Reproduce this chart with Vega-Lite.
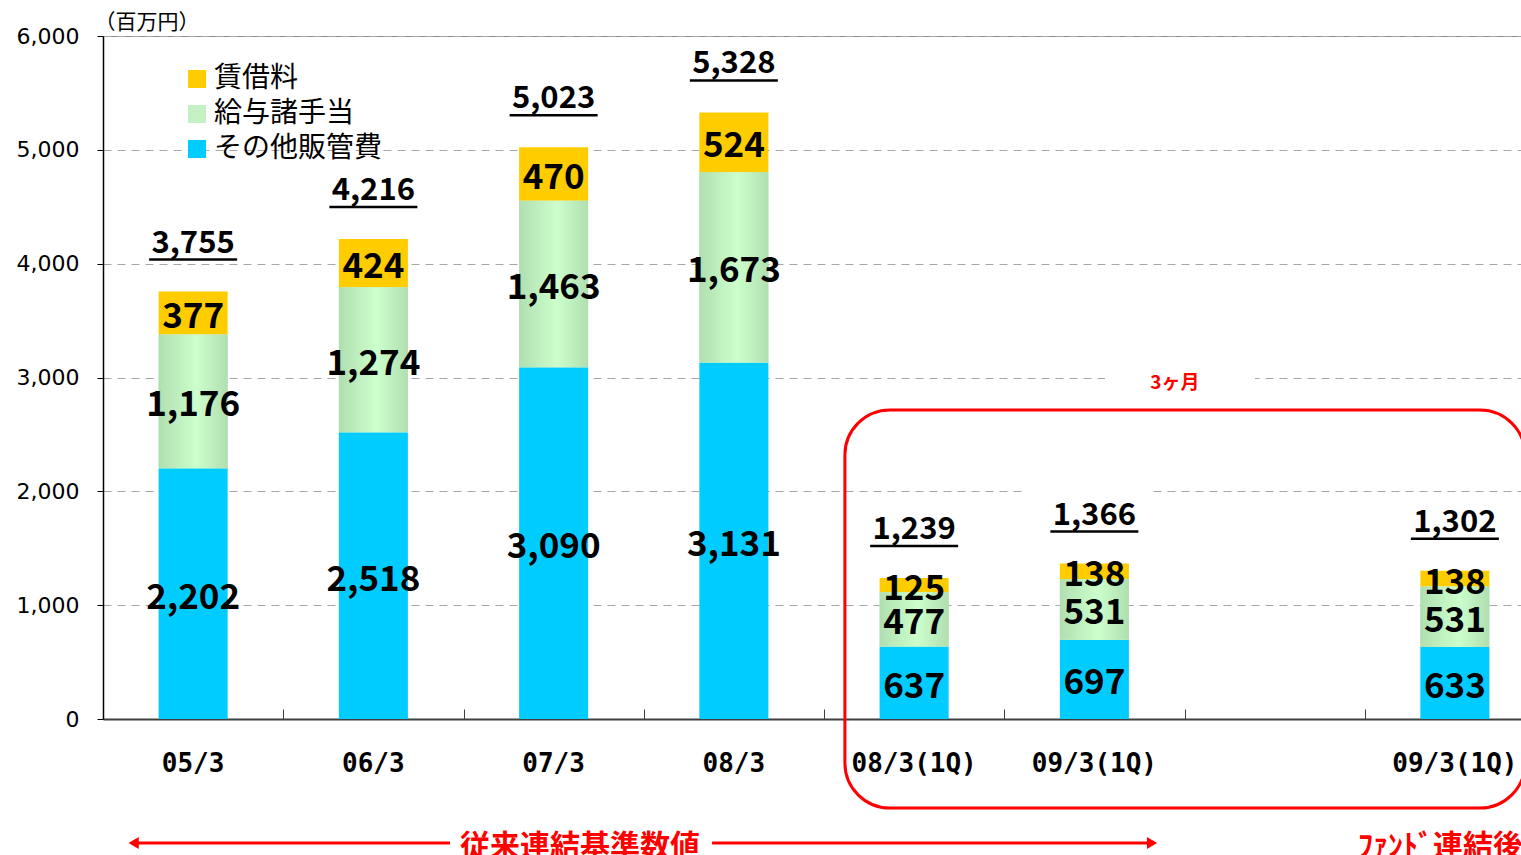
{
  "$schema": "https://vega.github.io/schema/vega-lite/v6.json",
  "width": 1418,
  "height": 683,
  "autosize": {"type": "none"},
  "padding": {"left": 103, "top": 36, "right": 0, "bottom": 136},
  "background": "white",
  "config": {"view": {"stroke": "#8c8c8c", "strokeWidth": 1}, "font": "Noto Sans CJK JP"},
  "datasets": {
    "costs": [
      {"cat": "05/3", "series": "その他販管費", "order": 1, "value": 2202},
      {"cat": "05/3", "series": "給与諸手当", "order": 2, "value": 1176},
      {"cat": "05/3", "series": "賃借料", "order": 3, "value": 377},
      {"cat": "06/3", "series": "その他販管費", "order": 1, "value": 2518},
      {"cat": "06/3", "series": "給与諸手当", "order": 2, "value": 1274},
      {"cat": "06/3", "series": "賃借料", "order": 3, "value": 424},
      {"cat": "07/3", "series": "その他販管費", "order": 1, "value": 3090},
      {"cat": "07/3", "series": "給与諸手当", "order": 2, "value": 1463},
      {"cat": "07/3", "series": "賃借料", "order": 3, "value": 470},
      {"cat": "08/3", "series": "その他販管費", "order": 1, "value": 3131},
      {"cat": "08/3", "series": "給与諸手当", "order": 2, "value": 1673},
      {"cat": "08/3", "series": "賃借料", "order": 3, "value": 524},
      {"cat": "08/3(1Q)", "series": "その他販管費", "order": 1, "value": 637},
      {"cat": "08/3(1Q)", "series": "給与諸手当", "order": 2, "value": 477},
      {"cat": "08/3(1Q)", "series": "賃借料", "order": 3, "value": 125},
      {"cat": "09/3(1Q)", "series": "その他販管費", "order": 1, "value": 697},
      {"cat": "09/3(1Q)", "series": "給与諸手当", "order": 2, "value": 531},
      {"cat": "09/3(1Q)", "series": "賃借料", "order": 3, "value": 138},
      {"cat": "09/3(1Q)*", "series": "その他販管費", "order": 1, "value": 633},
      {"cat": "09/3(1Q)*", "series": "給与諸手当", "order": 2, "value": 531},
      {"cat": "09/3(1Q)*", "series": "賃借料", "order": 3, "value": 138}
    ],
    "gaps": [
      {"x": 5.559, "x2": 6.391, "y": 2930, "y2": 3070},
      {"x": 5.115, "x2": 5.809, "y": 1950, "y2": 2050}
    ],
    "box": [{"x": 4.116, "x2": 7.889, "y": -782, "y2": 2715}],
    "arrows": [
      {"x": 0.17, "x2": 1.925, "y": -1089},
      {"x": 3.379, "x2": 5.82, "y": -1089}
    ],
    "heads": [
      {"x": 0.17, "y": -1089, "shape": "triangle-left"},
      {"x": 5.82, "y": -1089, "shape": "triangle-right"}
    ],
    "bigNotes": [
      {"x": 2.646, "y": -1124, "text": "従来連結基準数値"},
      {"x": 7.42, "y": -1124, "text": "ﾌｧﾝﾄﾞ連結後"}
    ],
    "smallNotes": [{"x": 5.947, "y": 2952, "text": "3ヶ月"}]
  },
  "resolve": {"scale": {"x": "independent"}, "axis": {"x": "independent"}},
  "layer": [
    {
      "layer": [
        {
          "data": {"name": "gaps"},
          "mark": {"type": "rect", "color": "white"},
          "encoding": {
            "x": {
              "field": "x", "type": "quantitative",
              "scale": {"domain": [0, 8], "range": [0, 1442], "nice": false, "zero": false},
              "axis": {"orient": "bottom", "values": [1, 2, 3, 4, 5, 6, 7], "labels": false, "domain": false, "grid": false, "ticks": true, "tickSize": -10, "tickColor": "#404040", "tickWidth": 1, "title": null}
            },
            "x2": {"field": "x2"},
            "y": {
              "field": "y", "type": "quantitative",
              "scale": {"domain": [0, 6000], "nice": false},
              "axis": {
                "values": [0, 1000, 2000, 3000, 4000, 5000, 6000],
                "labelExpr": "format(datum.value, ',')",
                "title": "（百万円）",
                "titleAngle": 0,
                "titleX": -9,
                "titleY": -14,
                "titleAlign": "left",
                "titleBaseline": "middle",
                "titleFont": "Noto Sans CJK JP",
                "titleFontWeight": "normal",
                "titleFontSize": 21,
                "titleColor": "black",
                "labelFont": "DejaVu Sans",
                "labelFontSize": 22,
                "labelColor": "black",
                "labelPadding": 18,
                "tickSize": 6,
                "tickColor": "black",
                "domainColor": "black",
                "domainWidth": 1.5,
                "grid": true,
                "gridColor": "#a6a6a6",
                "gridDash": [8, 6],
                "gridWidth": 1
              }
            },
            "y2": {"field": "y2"}
          }
        },
        {
          "data": {"name": "box"},
          "mark": {"type": "rect", "fillOpacity": 0, "stroke": "#FF0000", "strokeWidth": 3, "cornerRadius": 45},
          "encoding": {
            "x": {"field": "x", "type": "quantitative"},
            "x2": {"field": "x2"},
            "y": {"field": "y", "type": "quantitative"},
            "y2": {"field": "y2"}
          }
        },
        {
          "data": {"name": "arrows"},
          "mark": {"type": "rule", "color": "#FF0000", "strokeWidth": 3},
          "encoding": {
            "x": {"field": "x", "type": "quantitative"},
            "x2": {"field": "x2"},
            "y": {"field": "y", "type": "quantitative"}
          }
        },
        {
          "data": {"name": "heads"},
          "mark": {"type": "point", "filled": true, "color": "#FF0000", "opacity": 1, "size": 140},
          "encoding": {
            "x": {"field": "x", "type": "quantitative"},
            "y": {"field": "y", "type": "quantitative"},
            "shape": {"field": "shape", "type": "nominal", "scale": null}
          }
        },
        {
          "data": {"name": "bigNotes"},
          "mark": {"type": "text", "color": "#FF0000", "font": "Noto Sans CJK JP", "fontWeight": "bold", "fontSize": 30, "baseline": "middle", "align": "center"},
          "encoding": {
            "x": {"field": "x", "type": "quantitative"},
            "y": {"field": "y", "type": "quantitative"},
            "text": {"field": "text"}
          }
        },
        {
          "data": {"name": "smallNotes"},
          "mark": {"type": "text", "color": "#FF0000", "font": "Noto Sans CJK JP", "fontWeight": "bold", "fontSize": 19, "baseline": "middle", "align": "center"},
          "encoding": {
            "x": {"field": "x", "type": "quantitative"},
            "y": {"field": "y", "type": "quantitative"},
            "text": {"field": "text"}
          }
        }
      ]
    },
    {
      "data": {"name": "costs"},
      "transform": [
        {"stack": "value", "groupby": ["cat"], "sort": [{"field": "order", "order": "ascending"}], "as": ["v0", "v1"]}
      ],
      "layer": [
        {
          "mark": {"type": "bar"},
          "encoding": {
            "x": {
              "field": "cat", "type": "nominal",
              "scale": {"domain": ["05/3", "06/3", "07/3", "08/3", "08/3(1Q)", "09/3(1Q)", "_", "09/3(1Q)*"], "range": [0, 1442], "paddingInner": 0.617, "paddingOuter": 0.3085},
              "axis": {
                "orient": "bottom",
                "title": null,
                "labelExpr": "datum.label === '_' ? '' : replace(datum.label, '*', '')",
                "labelAngle": 0,
                "ticks": false,
                "domainColor": "#404040",
                "domainWidth": 2,
                "labelFont": "DejaVu Sans Mono",
                "labelFontWeight": "bold",
                "labelFontSize": 26,
                "labelColor": "black",
                "labelPadding": 31,
                "grid": false
              }
            },
            "y": {"field": "v0", "type": "quantitative"},
            "y2": {"field": "v1"},
            "color": {
              "field": "series", "type": "nominal",
              "scale": {"domain": ["賃借料", "給与諸手当", "その他販管費"], "range": ["#FFCC00", "#C4F0C4", "#00CCFF"]},
              "legend": {
                "title": null,
                "orient": "none",
                "legendX": 80,
                "legendY": 29,
                "symbolType": "square",
                "symbolSize": 324,
                "symbolStrokeWidth": 0,
                "labelFont": "Noto Sans CJK JP",
                "labelFontSize": 28,
                "labelLimit": 400,
                "labelColor": "black",
                "labelOffset": 3,
                "rowPadding": 7,
                "padding": 0
              }
            }
          }
        },
        {
          "transform": [{"filter": "datum.series === '給与諸手当'"}],
          "mark": {
            "type": "bar",
            "color": {"gradient": "linear", "x1": 0, "x2": 1, "y1": 0, "y2": 0, "stops": [{"offset": 0, "color": "#B0DEB0"}, {"offset": 0.55, "color": "#CCFFCC"}, {"offset": 1, "color": "#B0DEB0"}]}
          },
          "encoding": {
            "x": {"field": "cat", "type": "nominal"},
            "y": {"field": "v0", "type": "quantitative"},
            "y2": {"field": "v1"}
          }
        },
        {
          "transform": [
            {"fold": ["v0", "v1"], "as": ["edgeName", "edge"]},
            {"aggregate": [{"op": "mean", "field": "edge", "as": "mid"}], "groupby": ["cat", "series", "value"]}
          ],
          "mark": {"type": "text", "font": "Noto Sans CJK JP", "fontWeight": "bold", "fontSize": 35, "baseline": "middle", "color": "black", "dy": 4},
          "encoding": {
            "x": {"field": "cat", "type": "nominal"},
            "y": {"field": "mid", "type": "quantitative"},
            "text": {"field": "value", "type": "quantitative", "format": ","}
          }
        },
        {
          "transform": [{"aggregate": [{"op": "sum", "field": "value", "as": "total"}], "groupby": ["cat"]}],
          "layer": [
            {
              "mark": {"type": "text", "font": "Noto Sans CJK JP", "fontWeight": "bold", "fontSize": 31, "baseline": "middle", "color": "black", "dy": -48},
              "encoding": {
                "x": {"field": "cat", "type": "nominal"},
                "y": {"field": "total", "type": "quantitative"},
                "text": {"field": "total", "type": "quantitative", "format": ","}
              }
            },
            {
              "mark": {"type": "tick", "orient": "horizontal", "size": 88, "thickness": 2.5, "color": "black", "opacity": 1, "yOffset": -32},
              "encoding": {
                "x": {"field": "cat", "type": "nominal"},
                "y": {"field": "total", "type": "quantitative"}
              }
            }
          ]
        }
      ]
    }
  ]
}
